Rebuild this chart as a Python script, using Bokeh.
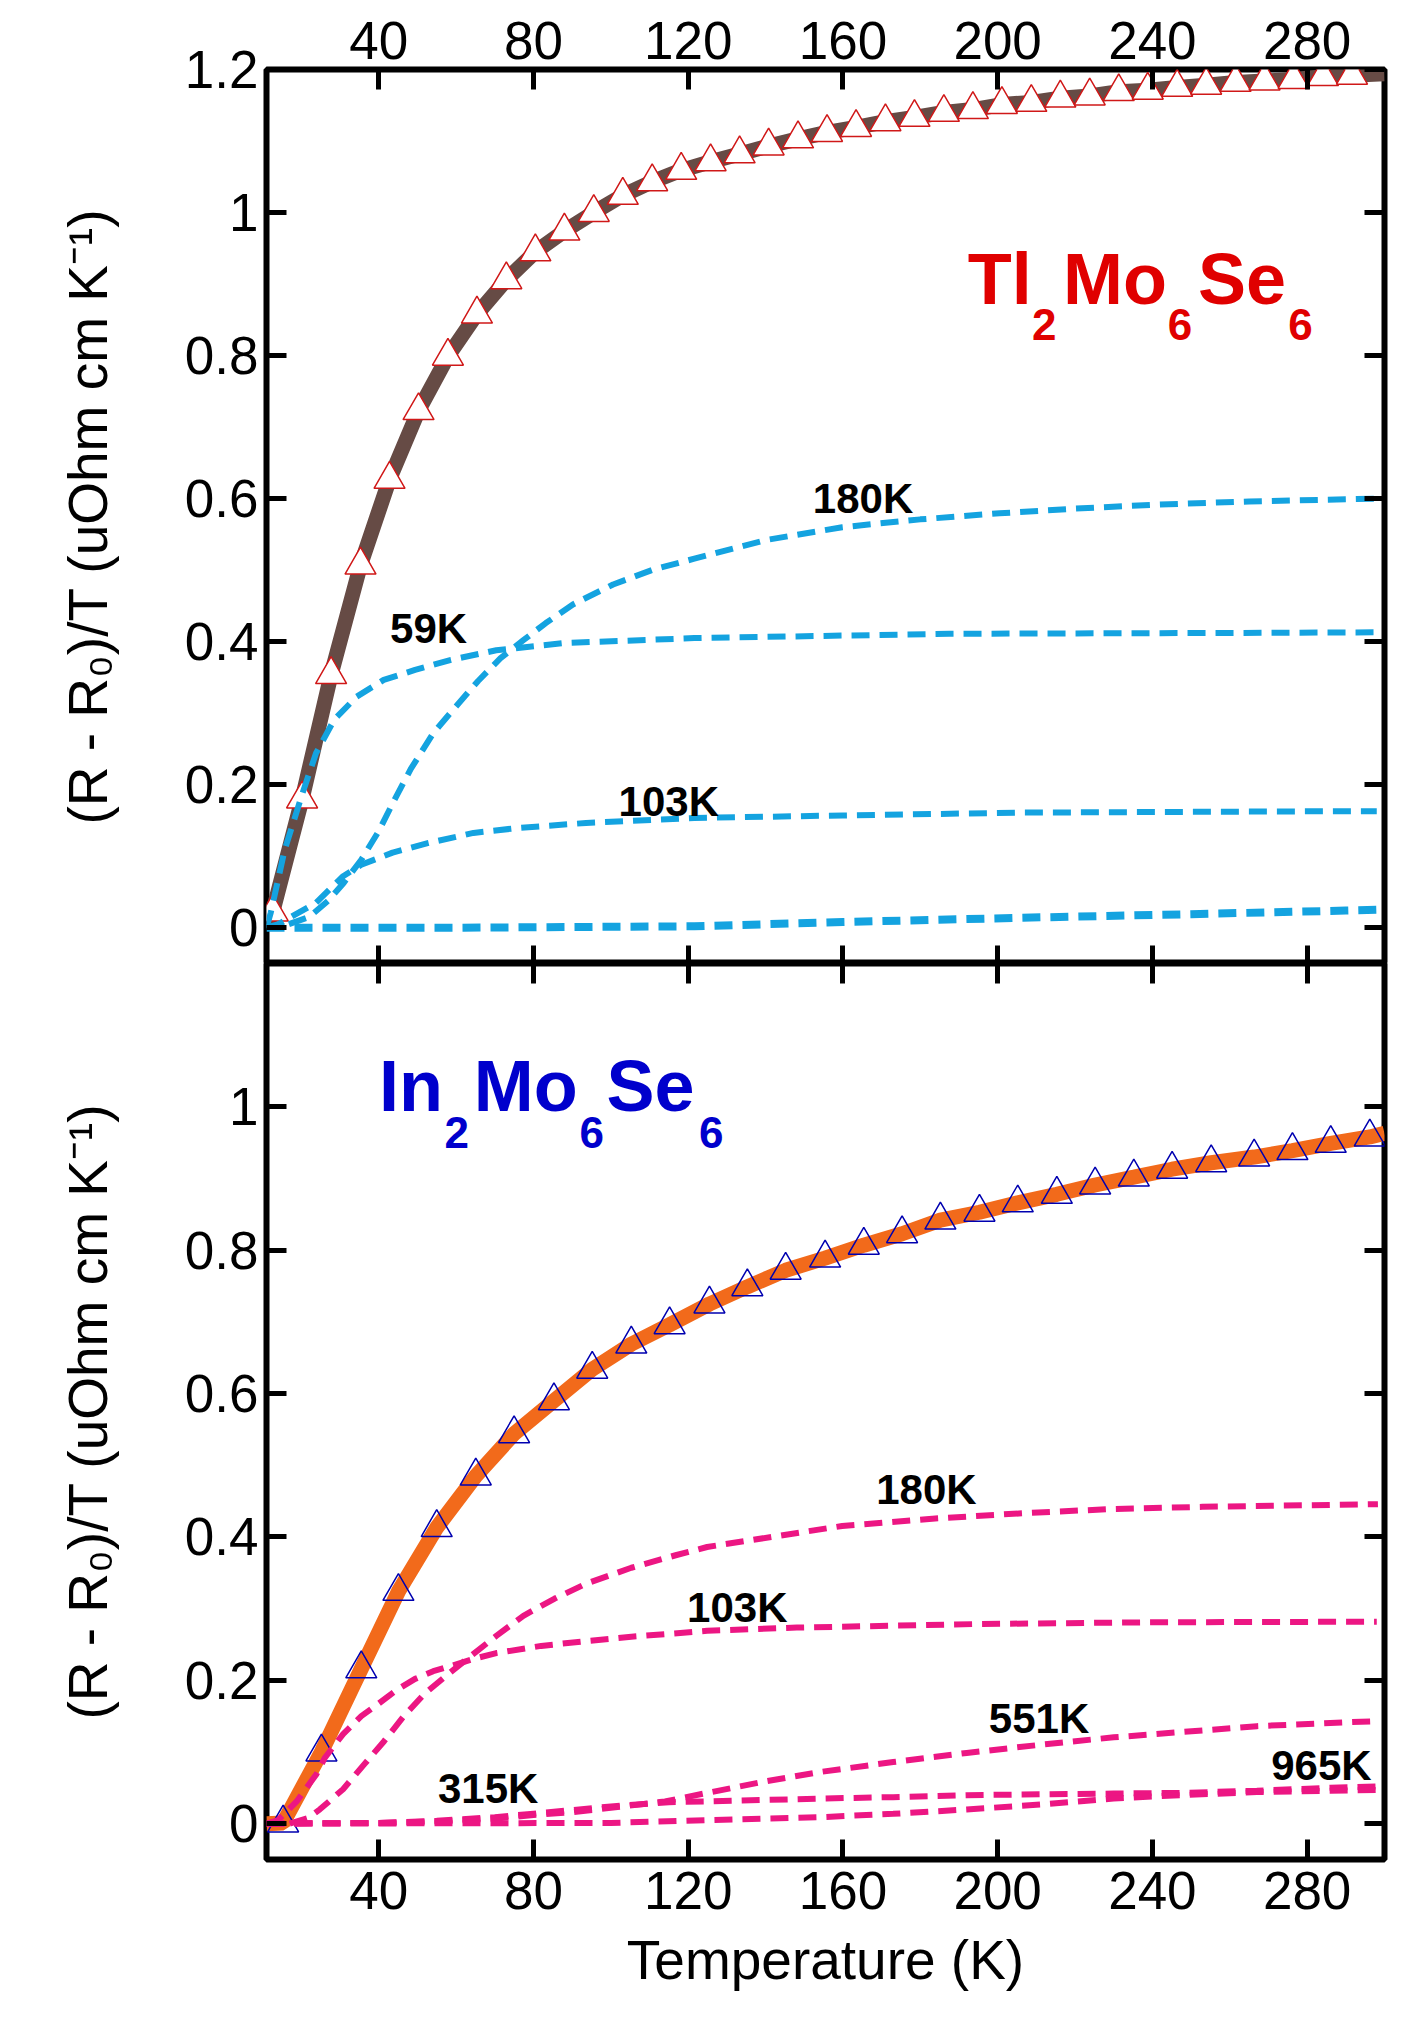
from bokeh.plotting import figure
from bokeh.models import Range1d, LinearAxis, FixedTicker, Label
from bokeh.layouts import column
from bokeh.embed import file_html
from bokeh.resources import INLINE

# ---------------- data: Tl2Mo6Se6 (top panel) ----------------
tl_T = [12.6, 20.2, 27.7, 35.3, 42.8, 50.3, 57.9, 65.4, 73.0, 80.5, 88.0, 95.6, 103.1,
        110.7, 118.2, 125.8, 133.3, 140.8, 148.4, 155.9, 163.4, 171.0, 178.5, 186.1,
        193.6, 201.1, 208.7, 216.2, 223.8, 231.3, 238.8, 246.4, 253.9, 261.5, 269.0,
        276.5, 284.1, 291.6]
tl_R = [0.022, 0.180, 0.354, 0.507, 0.627, 0.723, 0.799, 0.858, 0.906, 0.945, 0.974, 1.000,
        1.024, 1.043, 1.059, 1.071, 1.082, 1.093, 1.103, 1.112, 1.119, 1.127, 1.133, 1.140,
        1.144, 1.151, 1.154, 1.160, 1.163, 1.169, 1.171, 1.175, 1.178, 1.182, 1.184,
        1.186, 1.190, 1.192]
tl_line_T = [11.0] + tl_T + [300.0]
tl_line_R = [0.0] + tl_R + [1.194]

t59_T = [11, 12.1, 15.7, 20.3, 23.8, 28.5, 34.3, 41.3, 49.4, 58.7, 70.4, 87.8, 121.6, 187.5, 250, 298]
t59_R = [0.0, 0.021, 0.109, 0.188, 0.244, 0.291, 0.323, 0.3465, 0.3605, 0.3745, 0.388, 0.398,
         0.405, 0.411, 0.412, 0.413]

t180_T = [16.8, 22, 27, 31, 35.5, 40, 44, 48.3, 54.1, 59.9, 65.7, 71.5, 77.4, 83.2, 90.2, 100.6,
          111.1, 121.6, 140, 159.8, 180, 200.5, 220, 241.2, 265, 290, 298]
t180_R = [0.005, 0.015, 0.038, 0.063, 0.095, 0.135, 0.178, 0.222, 0.272, 0.309, 0.345, 0.377,
          0.402, 0.426, 0.452, 0.480, 0.501, 0.516, 0.542, 0.560, 0.571, 0.5795, 0.586, 0.5916,
          0.596, 0.599, 0.600]

t103_T = [11, 14.1, 23.8, 30.8, 35.5, 43.6, 52.9, 64.5, 76.2, 93.6, 121.6, 160, 206.3, 250, 290, 298]
t103_R = [0.0, 0.005, 0.035, 0.072, 0.088, 0.105, 0.1186, 0.1326, 0.1396, 0.1465, 0.1535, 0.157,
          0.161, 0.162, 0.163, 0.163]

thi_T = [11, 60, 121.6, 160, 206.3, 250, 290, 298]
thi_R = [0.0, 0.0, 0.002, 0.008, 0.014, 0.019, 0.024, 0.025]

# ---------------- data: In2Mo6Se6 (bottom panel) ----------------
in_T = [15.3, 25.2, 35.5, 45.1, 55.0, 65.1, 75.0, 85.3, 95.2, 105.3, 115.2, 125.5, 135.3,
        145.2, 155.4, 165.4, 175.3, 185.2, 195.3, 205.2, 215.3, 225.2, 235.2, 245.1, 255.2,
        266.3, 276.2, 286.1, 296.2]
in_R = [0.001, 0.100, 0.216, 0.324, 0.413, 0.485, 0.544, 0.590, 0.634, 0.669, 0.696, 0.725,
        0.749, 0.772, 0.789, 0.807, 0.823, 0.842, 0.853, 0.866, 0.878, 0.891, 0.902, 0.913,
        0.922, 0.930, 0.939, 0.949, 0.958]
in_line_T = [11.0] + in_T + [300.0]
in_line_R = [0.0] + in_R + [0.963]

b103_T = [11, 14, 18.8, 23.9, 26.1, 30.8, 35.5, 40.1, 44.8, 49.4, 54.1, 58.7, 64.6, 70.4, 82.0,
          93.7, 105.3, 124.9, 148.1, 194.6, 241.2, 298]
b103_R = [0.0, 0.005, 0.031, 0.069, 0.092, 0.125, 0.150, 0.168, 0.187, 0.202, 0.2127, 0.220,
          0.230, 0.238, 0.248, 0.2547, 0.2608, 0.269, 0.2735, 0.2785, 0.281, 0.2817]

b180_T = [17, 21.8, 24.8, 30.8, 36.3, 41.4, 46.5, 52.0, 57.6, 63.4, 70.4, 77.4, 85.5, 93.7,
          105.3, 117.0, 124.9, 159.8, 183.1, 206.3, 229.6, 252.9, 298.3]
b180_R = [0.0, 0.008, 0.020, 0.048, 0.083, 0.115, 0.150, 0.182, 0.207, 0.232, 0.262, 0.290,
          0.314, 0.335, 0.357, 0.3748, 0.386, 0.4153, 0.4255, 0.433, 0.439, 0.442, 0.4457]

b315_T = [11, 40, 55, 70, 80, 90, 100, 115, 125, 154, 173, 192, 211, 230, 248, 267, 286, 298]
b315_R = [0.0, 0.001, 0.004, 0.009, 0.014, 0.019, 0.024, 0.030, 0.031, 0.035, 0.037, 0.0397,
          0.041, 0.042, 0.043, 0.046, 0.050, 0.052]

b551_T = [11, 40, 55, 70, 80, 90, 100, 114, 125, 139, 154, 173, 192, 211, 230, 248, 267, 286, 298]
b551_R = [0.0, 0.001, 0.003, 0.007, 0.012, 0.016, 0.022, 0.031, 0.043, 0.058, 0.072, 0.086,
          0.0987, 0.110, 0.1205, 0.128, 0.136, 0.1405, 0.143]

b965_T = [11, 100, 125, 154, 173, 192, 211, 230, 248, 267, 286, 298]
b965_R = [0.0, 0.001, 0.005, 0.009, 0.0137, 0.0198, 0.0267, 0.035, 0.040, 0.044, 0.046, 0.047]

x_ticks = [40, 80, 120, 160, 200, 240, 280]
top_y_ticks = [0, 0.2, 0.4, 0.6, 0.8, 1.0, 1.2]
top_y_labels = ["0", "0.2", "0.4", "0.6", "0.8", "1", "1.2"]
bot_y_ticks = [0, 0.2, 0.4, 0.6, 0.8, 1.0]
bot_y_labels = ["0", "0.2", "0.4", "0.6", "0.8", "1"]

top_curve_labels = [("180K", 165.2, 0.582), ("59K", 52.9, 0.400), ("103K", 115.0, 0.158)]
bot_curve_labels = [("180K", 181.6, 0.448), ("103K", 132.7, 0.2836), ("551K", 210.7, 0.129),
                    ("965K", 283.7, 0.0634), ("315K", 68.3, 0.031)]

# formula pieces: (text, left x in K, is_subscript)
tl_formula = [("Tl", 192.3, False), ("2", 208.9, True), ("Mo", 216.9, False),
              ("6", 244.0, True), ("Se", 251.8, False), ("6", 275.1, True)]
tl_formula_base = (0.877, 0.826)
in_formula = [("In", 40.1, False), ("2", 57.0, True), ("Mo", 64.6, False),
              ("6", 91.9, True), ("Se", 98.9, False), ("6", 122.8, True)]
in_formula_base = (0.9985, 0.947)

FONT = "Liberation Sans"
BLUE_DASH = "#14A3E0"
PINK_DASH = "#EC1683"
BROWN = "#664B45"
ORANGE = "#F26A1B"
RED = "#E00000"
DBLUE = "#0000CC"
YLABEL = "(R - R\u2080)/T (uOhm cm K\u207b\u00b9)"


def make_axis(ticks, labels=None, tick_in=20, size="53px", standoff=14):
    ax = LinearAxis(ticker=FixedTicker(ticks=ticks))
    ax.major_tick_in = tick_in
    ax.major_tick_out = 0
    ax.major_tick_line_width = 5
    ax.major_tick_line_color = "black"
    ax.minor_tick_line_color = None
    ax.axis_line_color = None
    if labels is None:
        ax.major_label_text_font_size = "0px"
        ax.major_label_standoff = 0
        ax.major_label_overrides = {t: "" for t in ticks}
    else:
        ax.major_label_overrides = dict(zip(ticks, labels))
        ax.major_label_text_font = FONT
        ax.major_label_text_font_size = size
        ax.major_label_text_color = "black"
        ax.major_label_standoff = standoff
    return ax


def style_axis_label(ax, text, standoff):
    ax.axis_label = text
    ax.axis_label_text_font = FONT
    ax.axis_label_text_font_size = "55px"
    ax.axis_label_text_font_style = "normal"
    ax.axis_label_text_color = "black"
    ax.axis_label_standoff = standoff


def base_fig(frame_h, top, bottom):
    p = figure(frame_width=1118, frame_height=frame_h,
               x_range=Range1d(11, 300), y_range=Range1d(-0.05, 1.2),
               x_axis_location=None, y_axis_location=None,
               output_backend="svg", toolbar_location=None,
               min_border_left=266, min_border_right=20,
               min_border_top=top, min_border_bottom=bottom)
    p.xgrid.visible = False
    p.ygrid.visible = False
    p.outline_line_color = "black"
    p.outline_line_width = 6
    p.background_fill_color = "white"
    p.border_fill_color = "white"
    return p


def add_label(p, text, x, y, size, color="black", align="center", lift=13):
    p.add_layout(Label(x=x, y=y, text=text, text_font=FONT, text_font_style="bold",
                       text_font_size=size, text_color=color, text_align=align,
                       text_baseline="alphabetic", y_offset=lift))


def add_formula(p, pieces, base, color):
    for txt, x, sub in pieces:
        add_label(p, txt, x, base[1] if sub else base[0], "44px" if sub else "72px",
                  color=color, align="left", lift=12 if sub else 22)


# ---------------- top panel ----------------
p1 = base_fig(894, 69, 0)
ly = make_axis(top_y_ticks, top_y_labels, standoff=8)
style_axis_label(ly, YLABEL, 63)
p1.add_layout(ly, "left")
p1.add_layout(make_axis(top_y_ticks), "right")
p1.add_layout(make_axis(x_ticks, [str(t) for t in x_ticks], standoff=11), "above")
p1.add_layout(make_axis(x_ticks, tick_in=18), "below")

p1.line(tl_line_T, tl_line_R, line_color=BROWN, line_width=15)
p1.scatter(tl_T, tl_R, marker="triangle", size=31, fill_color="white",
           line_color="#D01818", line_width=1.5)
for T, R in [(t59_T, t59_R), (t180_T, t180_R), (t103_T, t103_R)]:
    p1.line(T, R, line_color=BLUE_DASH, line_width=6, line_dash="18 10")
p1.line(thi_T, thi_R, line_color=BLUE_DASH, line_width=8, line_dash="18 10")
for txt, x, y in top_curve_labels:
    add_label(p1, txt, x, y, "42px")
add_formula(p1, tl_formula, tl_formula_base, RED)

# ---------------- bottom panel ----------------
p2 = base_fig(896, 0, 151)
ly2 = make_axis(bot_y_ticks, bot_y_labels, standoff=8)
style_axis_label(ly2, YLABEL, 63)
p2.add_layout(ly2, "left")
p2.add_layout(make_axis(bot_y_ticks), "right")
p2.add_layout(make_axis(x_ticks, tick_in=20), "above")
lx = make_axis(x_ticks, [str(t) for t in x_ticks], standoff=12)
style_axis_label(lx, "Temperature (K)", 17)
p2.add_layout(lx, "below")

p2.line(in_line_T, in_line_R, line_color=ORANGE, line_width=15)
p2.scatter(in_T, in_R, marker="triangle", size=31, fill_color=None,
           line_color="#0000B0", line_width=1.5)
for T, R in [(b103_T, b103_R), (b180_T, b180_R), (b315_T, b315_R), (b551_T, b551_R),
             (b965_T, b965_R)]:
    p2.line(T, R, line_color=PINK_DASH, line_width=6, line_dash="18 10")
for txt, x, y in bot_curve_labels:
    add_label(p2, txt, x, y, "42px")
add_formula(p2, in_formula, in_formula_base, DBLUE)

layout = column(p1, p2, spacing=0)
open("out.html", "w").write(file_html(layout, INLINE))
